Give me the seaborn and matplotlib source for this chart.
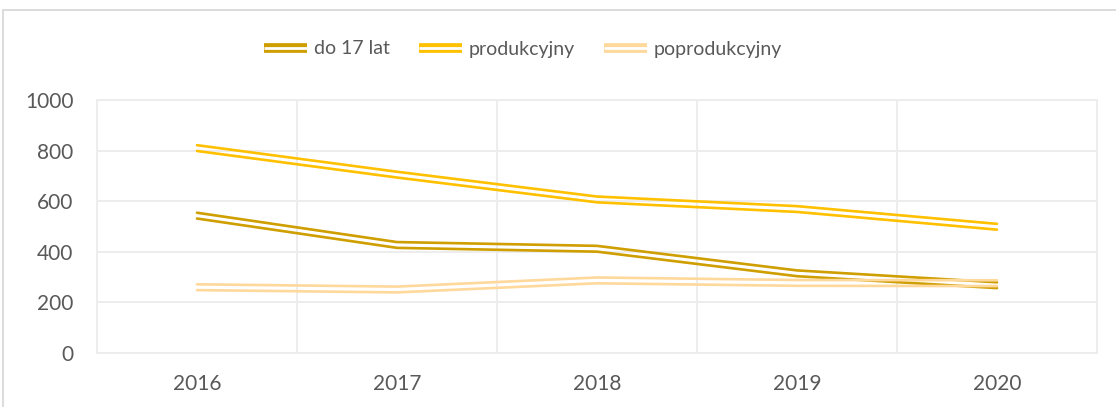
import matplotlib
matplotlib.use("Agg")
import matplotlib.pyplot as plt
import matplotlib.patheffects as pe
from matplotlib.lines import Line2D
from matplotlib.patches import Rectangle
from matplotlib.transforms import ScaledTranslation
import seaborn as sns

# ---------------------------------------------------------------------------
# Data
# ---------------------------------------------------------------------------
years = [2016, 2017, 2018, 2019, 2020]
do_17_lat = [543, 427, 412, 315, 268]
produkcyjny = [810, 705, 607, 569, 499]
poprodukcyjny = [260, 251, 287, 277, 276]

series_names = ["do 17 lat", "produkcyjny", "poprodukcyjny"]
series_values = [do_17_lat, produkcyjny, poprodukcyjny]
series_colors = ["#CF9E00", "#FFC000", "#FFD89C"]

y_ticks = [0, 200, 400, 600, 800, 1000]

# ---------------------------------------------------------------------------
# Figure
# ---------------------------------------------------------------------------
sns.set_theme(style="white")
plt.rcParams["font.family"] = ["Lato", "DejaVu Sans"]

W, H = 1116, 407
fig = plt.figure(figsize=(W / 100, H / 100), dpi=100)
ax = fig.add_axes([97 / W, 1 - 353 / H, 1000 / W, 253 / H])

text_color = "#595959"
grid_color = "#ECECEC"
fs = 15

# Excel-like "double" line: two thin strands offset up and down
strand_lw = 1.9
offset_in = 0.029
for name, vals, col in zip(series_names, series_values, series_colors):
    for sign in (1, -1):
        shift = ScaledTranslation(0, sign * offset_in, fig.dpi_scale_trans)
        sns.lineplot(x=years, y=vals, ax=ax, color=col, lw=strand_lw,
                     transform=ax.transData + shift, legend=False,
                     solid_joinstyle="miter")

ax.set_xlim(years[0] - 0.5, years[-1] + 0.5)
ax.set_ylim(0, 1000)
ax.set_xticks(years)
ax.set_xticklabels([str(y) for y in years])
ax.set_xticks([y + 0.5 for y in years[:-1]], minor=True)
ax.set_yticks(y_ticks)
ax.set_xlabel("")
ax.set_ylabel("")

ax.grid(False)
ax.yaxis.grid(True, color=grid_color, lw=1.3)
ax.xaxis.grid(True, which="minor", color=grid_color, lw=1.3)
ax.set_axisbelow(True)
ax.tick_params(axis="both", which="both", length=0, labelsize=fs,
               labelcolor=text_color)
ax.tick_params(axis="y", pad=17)
ax.tick_params(axis="x", pad=15)
for sp in ax.spines.values():
    sp.set_visible(True)
    sp.set_color(grid_color)
    sp.set_linewidth(1.3)

# Legend with double-line handles
handles = [
    Line2D([0], [0], color="white", lw=2.0, solid_capstyle="butt",
           path_effects=[pe.Stroke(linewidth=7.0, foreground=c,
                                   capstyle="butt"), pe.Normal()])
    for c in series_colors
]
fig.legend(handles, series_names, loc="center",
           bbox_to_anchor=(523 / W, 1 - 49 / H), ncol=3, frameon=False,
           fontsize=14, labelcolor=text_color, handlelength=2.2,
           handletextpad=0.35, columnspacing=1.5)

# chart-area border
fig.patches.append(Rectangle((3 / W, -0.2), 1.2, 1.2 - 9.5 / H,
                             transform=fig.transFigure, fill=False,
                             edgecolor="#D9D9D9", lw=1.3, clip_on=False))

fig.savefig("out.png", dpi=100)
